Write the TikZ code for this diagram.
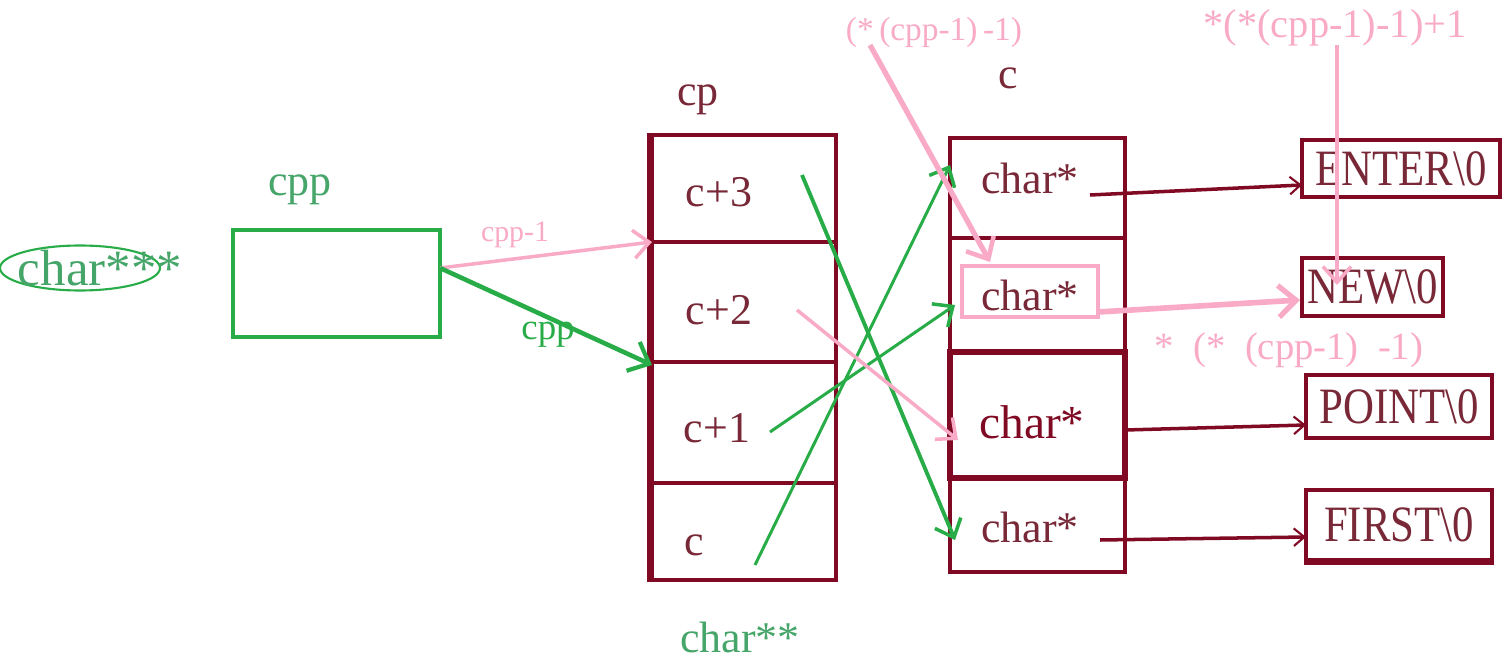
\documentclass[tikz,border=0pt]{standalone}
\usepackage{fontspec}
\setmainfont{Liberation Serif}
\usetikzlibrary{arrows.meta,shapes.geometric}
\definecolor{mar}{RGB}{128,10,35}
\definecolor{martxt}{RGB}{120,40,55}
\definecolor{grn}{RGB}{40,172,72}
\definecolor{gtxt}{RGB}{70,165,105}
\definecolor{pnk}{RGB}{248,170,198}
\newcommand{\condensed}[1]{\scalebox{0.84}[1.0]{#1}}
\tikzset{
  cellbox/.style={draw=mar, line width=2pt, minimum width=#1, inner sep=0pt},
  strbox/.style={draw=mar, line width=2.2pt, inner sep=0pt},
  celltxt/.style={text=martxt, font=\fontsize{25}{28}\selectfont, inner sep=0pt},
  strtxt/.style={text=martxt, font=\fontsize{29}{32}\selectfont, inner sep=0pt},
  pinktxt/.style={text=pnk, font=\fontsize{19}{22}\selectfont, inner sep=0pt},
  gbarb/.style={-{Straight Barb[length=9pt,width=16pt,line width=2pt]}},
  pbarb/.style={-{Straight Barb[length=9pt,width=16pt,line width=2pt]}},
  mbarb/.style={-{Straight Barb[length=6pt,width=10pt,line width=1.2pt]}},
}
\begin{document}
\begin{tikzpicture}[x=0.02cm,y=-0.02cm]
\useasboundingbox (0,0) rectangle (1509,662);

% left: char*** and cpp box
\node[draw=grn, line width=1.2pt, ellipse, minimum width=3.2cm, minimum height=0.9cm] (ell) at (80,268) {};
\node[text=gtxt, font=\fontsize{29}{32}\selectfont, inner sep=0pt] (t3) at (100,268) {char***};
\node[draw=grn, line width=1.8pt, minimum width=4.14cm, minimum height=2.14cm, inner sep=0pt] (cpp) at (336.5,283.5) {};
\node[text=gtxt, font=\fontsize{25}{28}\selectfont, inner sep=0pt] (cpplab) at (300,190) {cpp};
\coordinate (cppout) at (440,268);

% cp array
\node[cellbox=3.68cm, minimum height=2.14cm] (cp3) at (744,188.5) {};
\node[cellbox=3.68cm, minimum height=2.40cm] (cp2) at (744,302) {};
\node[cellbox=3.68cm, minimum height=2.42cm] (cp1) at (744,422.5) {};
\node[cellbox=3.68cm, minimum height=1.94cm] (cp0) at (744,531.5) {};
\draw[mar, line width=3.2pt] (cp3.north west) -- (cp0.south west);
\node[celltxt] (tc3) at (719,192) {c+3};
\node[celltxt] (tc2) at (719,310) {c+2};
\node[celltxt] (tc1) at (717,428) {c+1};
\node[celltxt] (tc0) at (694,545) {c};
\node[celltxt] (cplab) at (698,100) {cp};
\node[text=gtxt, font=\fontsize{25}{28}\selectfont, inner sep=0pt] (cc) at (740,637) {char**};

% c array
\node[cellbox=3.5cm, minimum height=2.0cm] (c3) at (1037.5,188) {};
\node[cellbox=3.5cm, minimum height=2.28cm] (c2) at (1037.5,295) {};
\node[cellbox=3.5cm, minimum height=1.88cm] (c0) at (1037.5,525) {};
\node[cellbox=3.5cm, minimum height=2.52cm, line width=3.2pt] (c1) at (1037.5,415) {};
\node[celltxt] (clab) at (1008,78) {c};
\node[celltxt] (tch3) at (1030,178) {char*};
\node[celltxt] (tch2) at (1030,295) {char*};
\node[celltxt, text=mar, font=\fontsize{27}{30}\selectfont] (tch1) at (1032,422) {char*};
\node[celltxt] (tch0) at (1030,527) {char*};
\node[draw=pnk, line width=2pt, minimum width=2.72cm, minimum height=1.02cm, inner sep=0pt] (hl) at (1030,291.5) {};

% strings
\node[strbox, minimum width=3.96cm, minimum height=1.14cm] (s1) at (1401,168.5) {};
\node[strtxt] at (s1) {\condensed{ENTER\textbackslash 0}};
\node[strbox, minimum width=2.82cm, minimum height=1.16cm] (s2) at (1372.5,287) {};
\node[strtxt] at (s2) {\condensed{NEW\textbackslash 0}};
\node[strbox, minimum width=3.72cm, minimum height=1.26cm] (s3) at (1399,406.5) {};
\node[strtxt] at (s3) {\condensed{POINT\textbackslash 0}};
\node[strbox, minimum width=3.72cm, minimum height=1.40cm] (s4) at (1399,525) {};
\node[strtxt] at (s4) {\condensed{FIRST\textbackslash 0}};
\draw[mar, line width=3.2pt] (s4.south west) -- (s4.south east);

% pink labels
\node[pinktxt] (p1) at (934,32) {(*\,(cpp-1)\,-1)};
\node[pinktxt, font=\fontsize{23}{26}\selectfont] (p2) at (1335,28) {*(*(cpp-1)-1)+1};
\node[pinktxt, font=\fontsize{22}{26}\selectfont] (p3) at (1289,350) {*\enspace(*\enspace(cpp-1)\enspace-1)};
\node[pinktxt, font=\fontsize{17}{20}\selectfont] (l1) at (515,235) {cpp-1};
\node[text=grn, font=\fontsize{21}{24}\selectfont, inner sep=0pt] (l2) at (548,335) {cpp};

% coordinates for connectors
\coordinate (a1) at (1090,195);
\coordinate (a2) at (1098,312);
\coordinate (a3) at (1125,430);
\coordinate (a4) at (1100,540);
\coordinate (e1) at (1302,185);
\coordinate (e2) at (1300,300);
\coordinate (e3) at (1306,425);
\coordinate (e4) at (1306,537);
\coordinate (q1s) at (870,45);
\coordinate (q1e) at (990,262);
\coordinate (q2s) at (1337,45);
\coordinate (q2e) at (1337,285);
\coordinate (cpin1) at (652,242);
\coordinate (cpin2) at (652,365);
\coordinate (g1s) at (802,175);
\coordinate (g1e) at (955,540);
\coordinate (g2s) at (770,432);
\coordinate (g2e) at (955,305);
\coordinate (g3s) at (755,565);
\coordinate (g3e) at (950,165);
\coordinate (p4s) at (797,310);
\coordinate (p4e) at (958,440);

% dark red pointers
\draw[mar, line width=2pt, mbarb] (a1) -- (e1);
\draw[mar, line width=2pt, mbarb] (a3) -- (e3);
\draw[mar, line width=2pt, mbarb] (a4) -- (e4);

% green / pink arrows from cp
\draw[grn, line width=2.2pt, gbarb] (g1s) -- (g1e);
\draw[grn, line width=1.7pt, gbarb] (g2s) -- (g2e);
\draw[grn, line width=1.7pt, gbarb] (g3s) -- (g3e);
\draw[pnk, line width=2pt, pbarb] (p4s) -- (p4e);

% from cpp
\draw[pnk, line width=2pt, pbarb] (cppout) -- (cpin1);
\draw[grn, line width=2.6pt, -{Straight Barb[length=10pt,width=18pt,line width=2.4pt]}] (cppout) -- (cpin2);

% pink expressions
\draw[pnk, line width=3pt, -{Straight Barb[length=10pt,width=18pt,line width=2.6pt]}] (q1s) -- (q1e);
\draw[pnk, line width=2pt, pbarb] (q2s) -- (q2e);
\draw[pnk, line width=3.2pt, -{Straight Barb[length=10pt,width=18pt,line width=3pt]}] (a2) -- (e2);
\end{tikzpicture}
\end{document}
